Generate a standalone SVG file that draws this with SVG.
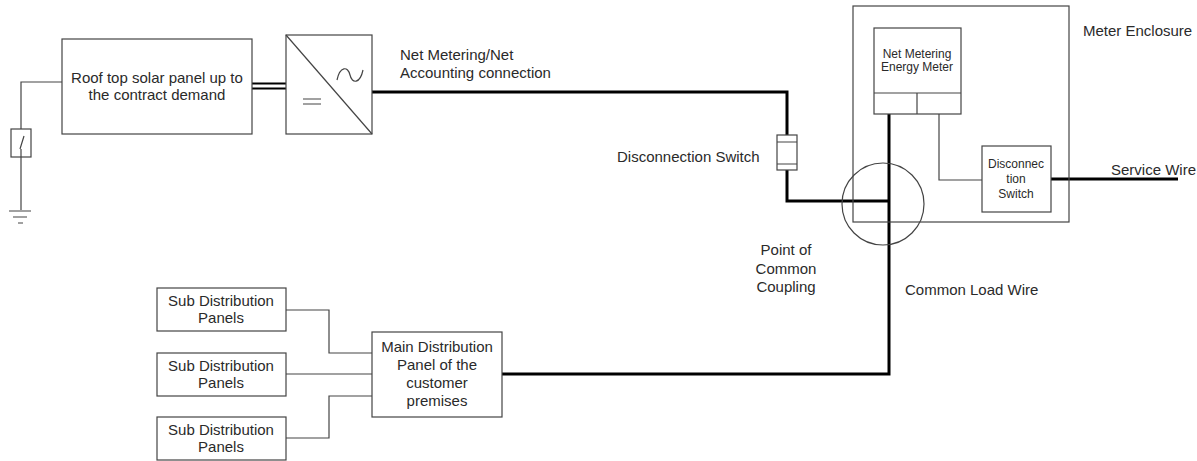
<svg xmlns="http://www.w3.org/2000/svg" width="1197" height="461" viewBox="0 0 1197 461">
<style>
.box{fill:#fff;stroke:#444;stroke-width:1.2}
.thin{fill:none;stroke:#444;stroke-width:1.2}
.thick{fill:none;stroke:#000;stroke-width:3}
text{font-family:"Liberation Sans",Arial,sans-serif;fill:#2a2a2a}
.l{font-size:15px}
.s{font-size:12px}
.m{text-anchor:middle}
</style>
<rect width="1197" height="461" fill="#fff"/>
<g id="connectors">
<path class="thin" d="M62 82H21V129M21 157V210"/>
<path class="thin" d="M9 211H31M13 217H27M18 223H23"/>
<path d="M252 83.5H286M252 88.5H286" fill="none" stroke="#000" stroke-width="2.2"/>
<path class="thick" d="M372 92H787V135M787 170V201H889"/>
<path class="thick" d="M502 374H889V114"/>
<path class="thin" d="M939 114V180H982"/>
<path class="thick" d="M1051 179H1178"/>
<path class="thin" d="M286 310H329V353H372M286 374H372M286 438H329V396H372"/>
</g>
<g id="enclosure"><rect x="853" y="6" width="216" height="216" fill="none" stroke="#444" stroke-width="1.2"/></g>
<g id="pcc"><circle cx="883" cy="204" r="41" fill="none" stroke="#444" stroke-width="1.2"/></g>
<g id="ground-switch">
<rect class="box" x="11" y="129" width="20" height="28"/>
<path class="thin" d="M24 136L20 149M21 149V157"/>
</g>
<g id="solar">
<rect class="box" x="62" y="39" width="190" height="95"/>
<text class="l m" x="157" y="83">Roof top solar panel up to</text>
<text class="l m" x="157" y="100">the contract demand</text>
</g>
<g id="inverter">
<rect class="box" x="286" y="35" width="86" height="99"/>
<path class="thin" d="M286 35L372 134"/>
<path class="thin" d="M303 99H321M303 104H321"/>
<path class="thin" d="M337 80C340 66 348 66 350 75C352 84 360 84 363 70"/>
</g>
<g id="dc-switch">
<rect class="box" x="777" y="135" width="20" height="35"/>
<path class="thin" d="M777 142H797M777 164H797"/>
</g>
<g id="meter">
<rect class="box" x="874" y="28" width="87" height="86"/>
<path class="thin" d="M874 93H961M917 93V114"/>
<text class="s m" x="917" y="58">Net Metering</text>
<text class="s m" x="917" y="71">Energy Meter</text>
</g>
<g id="meter-switch">
<rect class="box" x="982" y="146" width="69" height="66"/>
<text class="s m" x="1016" y="168">Disconnec</text>
<text class="s m" x="1016" y="183">tion</text>
<text class="s m" x="1016" y="198">Switch</text>
</g>
<g id="main-panel">
<rect class="box" x="372" y="332" width="130" height="85"/>
<text class="l m" x="437" y="352">Main Distribution</text>
<text class="l m" x="437" y="370">Panel of the</text>
<text class="l m" x="437" y="388">customer</text>
<text class="l m" x="437" y="406">premises</text>
</g>
<g id="sub1">
<rect class="box" x="157" y="288" width="129" height="43"/>
<text class="l m" x="221" y="306">Sub Distribution</text>
<text class="l m" x="221" y="323">Panels</text>
</g>
<g id="sub2">
<rect class="box" x="157" y="353" width="129" height="43"/>
<text class="l m" x="221" y="371">Sub Distribution</text>
<text class="l m" x="221" y="388">Panels</text>
</g>
<g id="sub3">
<rect class="box" x="157" y="417" width="129" height="43"/>
<text class="l m" x="221" y="435">Sub Distribution</text>
<text class="l m" x="221" y="452">Panels</text>
</g>
<g id="labels">
<text class="l" x="400" y="60">Net Metering/Net</text>
<text class="l" x="400" y="78">Accounting connection</text>
<text class="l" x="617" y="162">Disconnection Switch</text>
<text class="l" x="1083" y="36">Meter Enclosure</text>
<text class="l" x="1111" y="175">Service Wire</text>
<text class="l m" x="786" y="255">Point of</text>
<text class="l m" x="786" y="274">Common</text>
<text class="l m" x="786" y="292">Coupling</text>
<text class="l" x="905" y="295">Common Load Wire</text>
</g>
</svg>
